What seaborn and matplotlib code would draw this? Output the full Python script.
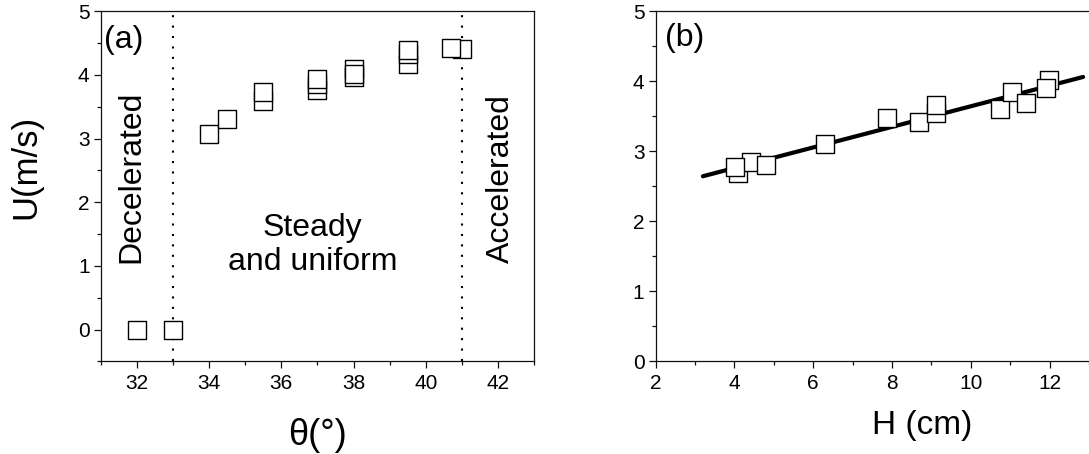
import numpy as np
import pandas as pd
import matplotlib
matplotlib.use('Agg')
import matplotlib.pyplot as plt
from matplotlib.ticker import MultipleLocator
import seaborn as sns

# ------------------------------------------------------------------
# data
# ------------------------------------------------------------------
# (a) flow velocity vs inclination angle (draw order kept: lower squares first)
theta_deg = [32, 33, 34, 34.5, 35.5, 35.5, 37, 37, 37, 38, 38, 38,
             39.5, 39.5, 39.5, 41.0, 40.7]
u_theta = [0, 0, 3.08, 3.31, 3.59, 3.73, 3.77, 3.86, 3.94, 4.09, 3.97, 4.02,
           4.17, 4.33, 4.40, 4.41, 4.42]
regime_limits = [33, 41]

# (b) flow velocity vs flow depth
h_cm = [4.09, 4.41, 4.01, 4.81, 6.30, 7.87, 8.69, 9.11, 9.11, 10.74,
        11.05, 11.39, 11.98, 11.90]
u_h = [2.69, 2.85, 2.78, 2.81, 3.11, 3.48, 3.42, 3.55, 3.66, 3.60,
       3.85, 3.69, 4.02, 3.90]

# linear fit shown in (b)
fit_slope = 0.147
fit_intercept = 2.174
fit_h_range = [3.2, 12.85]

# ------------------------------------------------------------------
# style
# ------------------------------------------------------------------
sns.set_theme(style='ticks')
plt.rcParams['font.family'] = ['Liberation Sans', 'DejaVu Sans']
plt.rcParams.update({
    'text.color': 'black',
    'axes.labelcolor': 'black',
    'axes.linewidth': 0.9,
    'axes.edgecolor': '#111111',
    'xtick.direction': 'out',
    'ytick.direction': 'out',
    'xtick.major.size': 5, 'ytick.major.size': 5,
    'xtick.minor.size': 3, 'ytick.minor.size': 3,
    'xtick.major.width': 0.9, 'ytick.major.width': 0.9,
    'xtick.minor.width': 0.9, 'ytick.minor.width': 0.9,
    'xtick.labelsize': 15, 'ytick.labelsize': 15,
    'xtick.major.pad': 4, 'ytick.major.pad': 3,
    'xtick.color': '#111111', 'ytick.color': '#111111',
    'xtick.labelcolor': 'black', 'ytick.labelcolor': 'black',
})

fig = plt.figure(figsize=(10.89, 4.54), dpi=100)
ax_a = fig.add_axes([0.0925, 0.204, 0.398, 0.771])
ax_b = fig.add_axes([0.602, 0.204, 0.398, 0.771])

marker_kw = dict(marker='s', s=150, facecolor='white', edgecolor='black',
                 linewidth=1.0, zorder=3, legend=False)

# ------------------------------------------------------------------
# (a)
# ------------------------------------------------------------------
df_a = pd.DataFrame({'theta': theta_deg, 'U': u_theta})
sns.scatterplot(data=df_a, x='theta', y='U', ax=ax_a, **marker_kw)
for xv in regime_limits:
    ax_a.axvline(xv, color='black', lw=1.5, ls=(0, (1, 4)), zorder=2)

ax_a.set_xlim(31, 43)
ax_a.set_ylim(-0.5, 5)
ax_a.xaxis.set_major_locator(MultipleLocator(2))
ax_a.xaxis.set_minor_locator(MultipleLocator(1))
ax_a.yaxis.set_major_locator(MultipleLocator(1))
ax_a.yaxis.set_minor_locator(MultipleLocator(0.5))
ax_a.set_yticks([0, 1, 2, 3, 4, 5])
ax_a.set_xlabel('θ(°)', fontsize=26)
ax_a.set_ylabel('U(m/s)', fontsize=25)
ax_a.xaxis.set_label_coords(0.5, -0.162)
ax_a.yaxis.set_label_coords(-0.135, 0.556)

ax_a.text(0.008, 0.918, '(a)', transform=ax_a.transAxes, fontsize=23,
          ha='left', va='center')
ax_a.text(0.0714, 0.528, 'Decelerated', transform=ax_a.transAxes, fontsize=23,
          rotation=90, ha='center', va='center')
ax_a.text(0.924, 0.521, 'Accelerated', transform=ax_a.transAxes, fontsize=23,
          rotation=90, ha='center', va='center')
ax_a.text(0.489, 0.333, 'Steady\nand uniform', transform=ax_a.transAxes,
          fontsize=23, ha='center', va='center', multialignment='center',
          linespacing=1.15)

# ------------------------------------------------------------------
# (b)
# ------------------------------------------------------------------
fit_x = np.array(fit_h_range)
df_fit = pd.DataFrame({'H': fit_x, 'U': fit_intercept + fit_slope * fit_x})
sns.lineplot(data=df_fit, x='H', y='U', ax=ax_b, color='black', lw=3,
             zorder=2)
df_b = pd.DataFrame({'H': h_cm, 'U': u_h})
sns.scatterplot(data=df_b, x='H', y='U', ax=ax_b, **marker_kw)

ax_b.set_xlim(2, 13)
ax_b.set_ylim(0, 5)
ax_b.xaxis.set_major_locator(MultipleLocator(2))
ax_b.xaxis.set_minor_locator(MultipleLocator(1))
ax_b.yaxis.set_major_locator(MultipleLocator(1))
ax_b.yaxis.set_minor_locator(MultipleLocator(0.5))
ax_b.set_xlabel('H (cm)', fontsize=24)
ax_b.set_ylabel('')
ax_b.xaxis.set_label_coords(0.615, -0.14)
ax_b.spines['right'].set_visible(False)
ax_b.text(0.021, 0.923, '(b)', transform=ax_b.transAxes, fontsize=23,
          ha='left', va='center')

for ax in (ax_a, ax_b):
    ax.tick_params(which='both', top=False, right=False)

fig.savefig('out.png', dpi=100)
